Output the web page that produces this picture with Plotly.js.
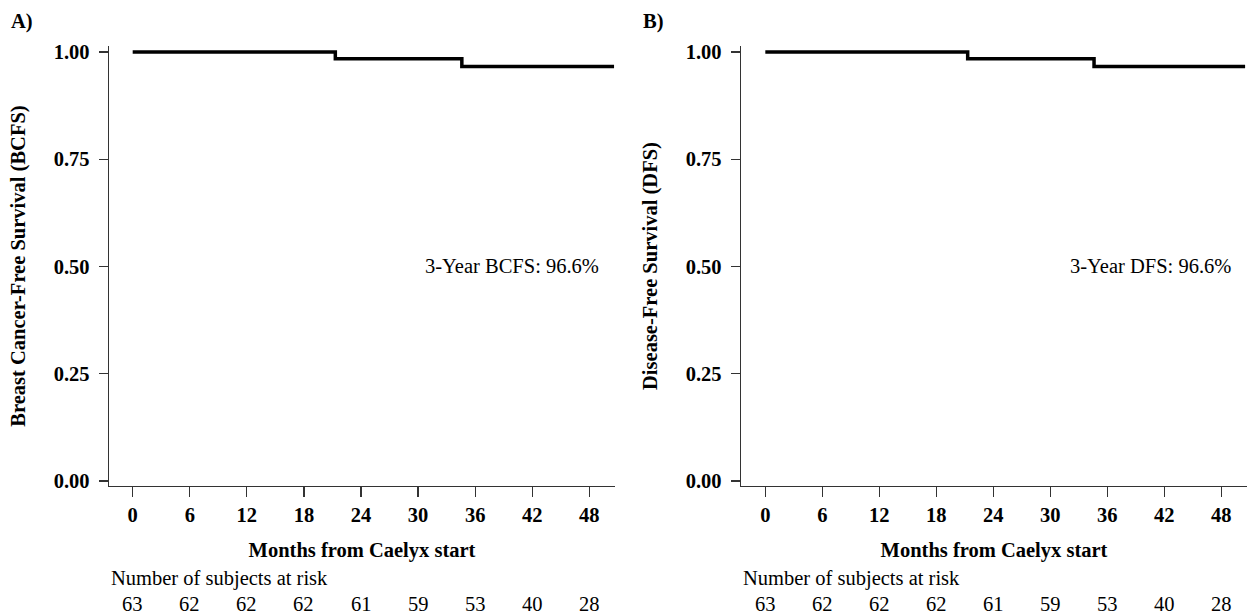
<!DOCTYPE html>
<html>
<head>
<meta charset="utf-8">
<script src="https://cdn.plot.ly/plotly-3.0.1.min.js"></script>
<style>html,body{margin:0;padding:0;background:#fff;}#chart{width:1247px;height:615px;}</style>
</head>
<body>
<div id="chart"></div>
<script>
// Kaplan-Meier step data (months, survival)
var bcfsTime = [0, 21.3, 34.6, 50.6];
var bcfsSurv = [1.0, 0.984, 0.966, 0.966];
var dfsTime = [0, 21.3, 34.6, 50.5];
var dfsSurv = [1.0, 0.984, 0.966, 0.966];
var xTicks = [0, 6, 12, 18, 24, 30, 36, 42, 48];
var yTicks = [0, 0.25, 0.5, 0.75, 1.0];
var yTickText = ["0.00", "0.25", "0.50", "0.75", "1.00"];
var atRiskA = [63, 62, 62, 62, 61, 59, 53, 40, 28];
var atRiskB = [63, 62, 62, 62, 61, 59, 53, 40, 28];
var panelLabels = ["A)", "B)"];
var yTitles = ["Breast Cancer-Free Survival (BCFS)", "Disease-Free Survival (DFS)"];
var xTitle = "Months from Caelyx start";
var riskTitle = "Number of subjects at risk";
var notes = ["3-Year BCFS: 96.6%", "3-Year DFS: 96.6%"];

var FONT = '"Liberation Serif", "Times New Roman", serif';
var boldFont = {family: FONT, size: 20.5, color: '#000', weight: 'bold'};
var normFont = {family: FONT, size: 20.5, color: '#000'};

var traces = [
  {x: bcfsTime, y: bcfsSurv, xaxis: 'x', yaxis: 'y', mode: 'lines', line: {shape: 'hv', color: '#000', width: 3.5}, hoverinfo: 'skip', showlegend: false},
  {x: dfsTime, y: dfsSurv, xaxis: 'x2', yaxis: 'y2', mode: 'lines', line: {shape: 'hv', color: '#000', width: 3.5}, hoverinfo: 'skip', showlegend: false}
];

var yDom = [1 - 486/615, 1 - 46/615];
function xAxis(dom, range, anchor) {
  return {
    domain: dom, range: range, anchor: anchor,
    tickmode: 'array', tickvals: xTicks, ticktext: xTicks.map(String),
    ticks: 'outside', ticklen: 10, tickwidth: 1.3, tickcolor: '#333',
    showline: true, linecolor: '#333', linewidth: 1.3, mirror: false,
    showgrid: false, zeroline: false,
    tickfont: boldFont,
    title: {text: '<b>' + xTitle + '</b>', font: boldFont, standoff: 17},
    fixedrange: true
  };
}
function yAxis(anchor, title) {
  return {
    domain: yDom, range: [-0.0117, 1.014], anchor: anchor,
    tickmode: 'array', tickvals: yTicks, ticktext: yTickText,
    ticks: 'outside', ticklen: 9, tickwidth: 1.3, tickcolor: '#333',
    showline: true, linecolor: '#333', linewidth: 1.3,
    showgrid: false, zeroline: false,
    tickfont: boldFont, ticklabelstandoff: 5,
    title: {text: '<b>' + title + '</b>', font: boldFont, standoff: 22},
    fixedrange: true
  };
}

var annotations = [];
function addPanel(xref, atRisk, labelX, riskX, note) {
  for (var i = 0; i < xTicks.length; i++) {
    annotations.push({xref: xref, yref: 'paper', x: xTicks[i], y: 1 - 604/615, text: String(atRisk[i]), showarrow: false, font: normFont, xanchor: 'center', yanchor: 'middle'});
  }
  annotations.push({xref: 'paper', yref: 'paper', x: riskX, y: 1 - 578/615, text: riskTitle, showarrow: false, font: normFont, xanchor: 'left', yanchor: 'middle'});
  annotations.push({xref: 'paper', yref: 'paper', x: labelX, y: 1 - 22/615, text: '<b>' + panelLabels[xref === 'x' ? 0 : 1] + '</b>', showarrow: false, font: boldFont, xanchor: 'left', yanchor: 'middle'});
  annotations.push({xref: xref, yref: (xref === 'x' ? 'y' : 'y2'), x: 49.2, y: 0.5, text: note, showarrow: false, font: normFont, xanchor: 'right', yanchor: 'middle'});
}
addPanel('x', atRiskA, 9/1247, 109/1247, notes[0]);
addPanel('x2', atRiskB, 641/1247, 741/1247, notes[1]);

var layout = {
  width: 1247, height: 615,
  margin: {l: 0, r: 0, t: 0, b: 0},
  paper_bgcolor: '#fff', plot_bgcolor: '#fff',
  showlegend: false,
  xaxis: xAxis([109/1247, 615/1247], [-2.49, 50.7], 'y'),
  yaxis: yAxis('x', yTitles[0]),
  xaxis2: xAxis([741/1247, 1], [-2.56, 50.7], 'y2'),
  yaxis2: yAxis('x2', yTitles[1]),
  annotations: annotations
};

Plotly.newPlot('chart', traces, layout, {displayModeBar: false, staticPlot: true});
</script>
</body>
</html>
